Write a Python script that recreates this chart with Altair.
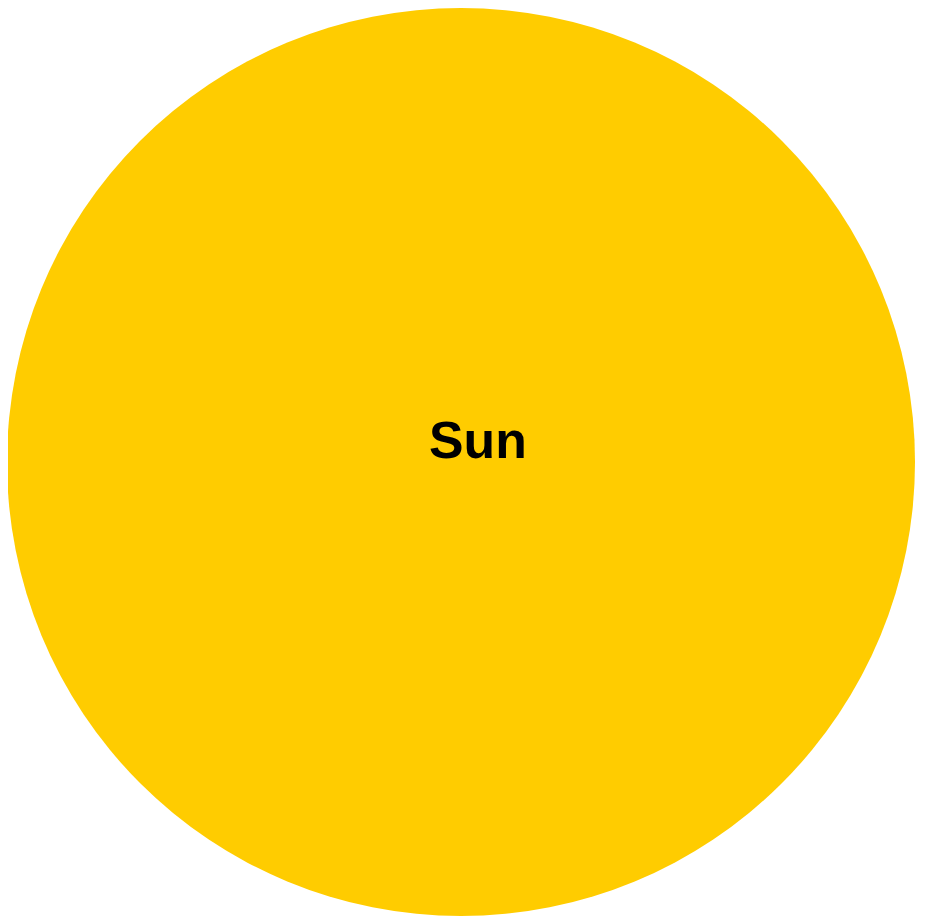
import altair as alt
import pandas as pd

names = ["Sun"]
values = [1]

df = pd.DataFrame({"name": names, "value": values})

base = alt.Chart(df)

disc = base.mark_arc(outerRadius=456, color="#FFCC00").encode(
    theta=alt.Theta("value:Q", stack=True),
    x=alt.value(455),
    y=alt.value(454),
)

label = base.mark_text(
    font="Liberation Sans", fontSize=52, fontWeight="bold", color="#000000",
    align="center", baseline="middle"
).encode(
    text="name:N",
    x=alt.value(472),
    y=alt.value(434),
)

chart = alt.layer(disc, label).properties(
    width=913, height=910, padding=0, autosize=alt.AutoSizeParams(type="none")
).configure(background="white", view=alt.ViewConfig(stroke=None))

chart.save("out.html", embed_options={"renderer": "svg", "actions": False})
